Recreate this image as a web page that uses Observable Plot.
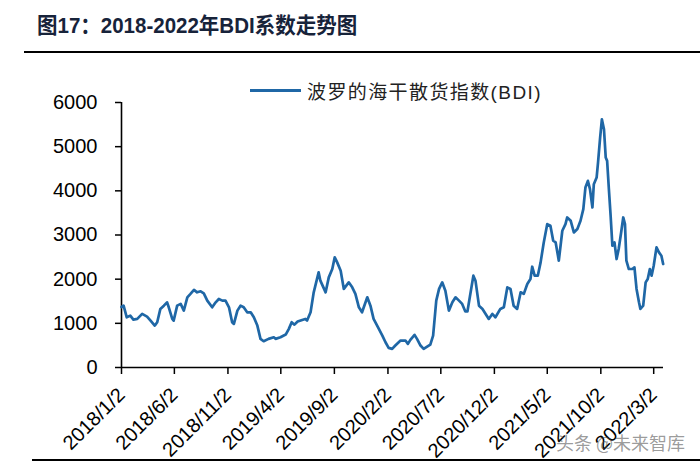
<!DOCTYPE html>
<html>
<head>
<meta charset="utf-8">
<script src="https://cdn.jsdelivr.net/npm/d3@7"></script>
<script src="https://cdn.jsdelivr.net/npm/@observablehq/plot@0.6"></script>
<style>
  html, body { margin: 0; padding: 0; background: #fff; }
  #wrap { position: relative; width: 700px; height: 462px; overflow: hidden; font-family: "Liberation Sans", Arial, "Noto Sans CJK SC", sans-serif; }
  #title { position: absolute; left: 37px; top: 15px; font-size: 20.5px; font-weight: bold; color: #17233a; line-height: 1; white-space: nowrap; font-family: "Liberation Sans", Arial, "Noto Sans CJK SC", sans-serif; transform: scaleY(1.08); transform-origin: left top; }
  #titleRule { position: absolute; left: 24px; top: 51px; width: 676px; height: 2px; background: #000; }
  #chart { position: absolute; left: 0; top: 60px; }
  #legend { position: absolute; left: 250px; top: 78px; height: 24px; display: flex; align-items: center; white-space: nowrap; }
  #legend .sw { width: 51px; height: 3px; background: #1f67a6; margin-right: 6px; }
  #legend .lb { font-size: 19px; color: #222; letter-spacing: 1.4px; font-family: "Liberation Sans", Arial, "Noto Sans CJK SC", sans-serif; }
  #bottomRule { position: absolute; left: 32px; top: 459px; width: 668px; height: 1.5px; background: #000; }
  #wm { position: absolute; left: 556px; top: 429px; font-size: 18px; color: rgba(70,70,70,0.55); white-space: nowrap; font-family: "Noto Sans CJK SC", sans-serif; }
</style>
</head>
<body>
<div id="wrap">
  <div id="title">图17：2018-2022年BDI系数走势图</div>
  <div id="titleRule"></div>
  <div id="chart"></div>
  <div id="legend"><div class="sw"></div><div class="lb">波罗的海干散货指数(BDI)</div></div>
  <div id="bottomRule"></div>
  <div id="wm">头条 @未来智库</div>
</div>
<script>
const dates = [
"2018-01-02","2018-01-08","2018-01-17","2018-01-27","2018-02-05","2018-02-16","2018-03-02","2018-03-16","2018-03-26","2018-04-07",
"2018-04-14","2018-04-23","2018-05-03","2018-05-12","2018-05-17","2018-05-27","2018-05-31","2018-06-10","2018-06-20","2018-06-29",
"2018-07-09","2018-07-18","2018-07-28","2018-08-06","2018-08-16","2018-08-25","2018-09-04","2018-09-18","2018-09-28","2018-10-07",
"2018-10-17","2018-10-26","2018-11-05","2018-11-14","2018-11-19","2018-11-29","2018-12-08","2018-12-17","2018-12-27","2019-01-06",
"2019-01-15","2019-01-25","2019-02-03","2019-02-12","2019-02-26","2019-03-13","2019-03-18","2019-04-01","2019-04-16","2019-04-25",
"2019-05-03","2019-05-11","2019-05-20","2019-06-02","2019-06-11","2019-06-16","2019-06-26","2019-07-05","2019-07-19","2019-07-24",
"2019-08-08","2019-08-17","2019-08-27","2019-09-03","2019-09-10","2019-09-20","2019-09-29","2019-10-13","2019-10-23","2019-11-01",
"2019-11-11","2019-11-20","2019-12-05","2019-12-14","2019-12-23","2020-01-07","2020-01-17","2020-01-26","2020-02-04","2020-02-14",
"2020-02-23","2020-03-09","2020-03-23","2020-03-30","2020-04-06","2020-04-18","2020-04-25","2020-05-05","2020-05-14","2020-05-24",
"2020-06-02","2020-06-10","2020-06-19","2020-06-27","2020-07-06","2020-07-15","2020-07-25","2020-08-04","2020-08-13","2020-08-23",
"2020-09-01","2020-09-10","2020-09-16","2020-09-23","2020-10-03","2020-10-09","2020-10-19","2020-10-29","2020-11-07","2020-11-16",
"2020-11-26","2020-12-05","2020-12-19","2020-12-29","2021-01-08","2021-01-17","2021-01-26","2021-02-05","2021-02-15","2021-02-24",
"2021-03-06","2021-03-15","2021-03-20","2021-03-27","2021-04-05","2021-04-13","2021-04-22","2021-05-02","2021-05-11","2021-05-19",
"2021-05-26","2021-06-04","2021-06-14","2021-06-23","2021-06-28","2021-07-08","2021-07-17","2021-07-27","2021-08-05","2021-08-13",
"2021-08-19","2021-08-26","2021-09-01","2021-09-08","2021-09-12","2021-09-20","2021-09-24","2021-09-30","2021-10-05","2021-10-11",
"2021-10-16","2021-10-20","2021-10-25","2021-10-30","2021-11-04","2021-11-10","2021-11-16","2021-11-22","2021-11-29","2021-12-05",
"2021-12-10","2021-12-14","2021-12-21","2021-12-31","2022-01-06","2022-01-12","2022-01-19","2022-01-23","2022-01-31","2022-02-07",
"2022-02-13","2022-02-19","2022-02-24","2022-03-02","2022-03-10","2022-03-17","2022-03-24","2022-03-29"
];
const bdi = [
1370,1400,1137,1175,1085,1100,1213,1152,1062,949,
1024,1326,1400,1476,1363,1100,1062,1400,1440,1288,
1589,1666,1756,1702,1725,1680,1514,1363,1476,1552,
1514,1514,1363,1024,987,1288,1400,1363,1250,1250,
1137,949,648,595,648,685,648,685,746,875,
1024,970,1040,1077,1100,1062,1250,1702,2154,1966,
1702,2041,2230,2493,2380,2192,1779,1928,1815,1666,
1363,1250,1589,1400,1100,875,723,572,444,422,
497,610,610,535,625,738,648,497,422,474,
520,723,1514,1779,1928,1740,1288,1476,1589,1514,
1440,1270,1270,1600,2079,1966,1400,1326,1213,1100,
1213,1137,1326,1363,1815,1779,1400,1326,1702,1666,
1892,2004,2282,2079,2079,2380,2832,3247,3209,2870,
2832,2418,3096,3247,3397,3322,3058,3134,3322,3586,
4075,4226,4038,3623,4151,4301,4640,5205,5620,5394,
4753,4678,4038,3435,2757,2832,2456,2682,3058,3397,
3247,2418,2230,2230,2267,1779,1476,1326,1400,1928,
2004,2230,2079,2305,2719,2606,2531,2343
];
const xTickDates = ["2018-01-02","2018-06-02","2018-11-02","2019-04-02","2019-09-02","2020-02-02","2020-07-02","2020-12-02","2021-05-02","2021-10-02","2022-03-02"];
const xTickLabels = ["2018/1/2","2018/6/2","2018/11/2","2019/4/2","2019/9/2","2020/2/2","2020/7/2","2020/12/2","2021/5/2","2021/10/2","2022/3/2"];
const yTicks = [0,1000,2000,3000,4000,5000,6000];
const xDomain = ["2018-01-02","2022-03-30"];

const data = dates.map((d, i) => ({date: new Date(d), value: bdi[i]}));
const tickDates = xTickDates.map(d => new Date(d));
const labelMap = new Map(tickDates.map((d, i) => [+d, xTickLabels[i]]));
const x0 = new Date(xDomain[0]);

const chart = Plot.plot({
  width: 700,
  height: 400,
  marginLeft: 121,
  marginRight: 37,
  marginTop: 42,
  marginBottom: 93,
  style: {fontFamily: "'Liberation Sans', Arial, sans-serif", fontSize: "20px", color: "#000", background: "transparent", overflow: "visible"},
  x: {type: "utc", domain: xDomain.map(d => new Date(d))},
  y: {domain: [0, 6000]},
  marks: [
    Plot.axisY({ticks: yTicks, tickSize: 6, tickPadding: 18, label: null, fontSize: 20, strokeWidth: 1.5, tickFormat: d => String(d)}),
    Plot.axisX({ticks: tickDates, tickSize: 7, tickPadding: 17, tickRotate: -45, label: null, fontSize: 20, strokeWidth: 1.5, tickFormat: d => labelMap.get(+d)}),
    Plot.ruleX([x0], {stroke: "#000", strokeWidth: 1.6}),
    Plot.ruleY([0], {stroke: "#000", strokeWidth: 1.6}),
    Plot.line(data, {x: "date", y: "value", stroke: "#1f67a6", strokeWidth: 2.7, strokeLinejoin: "round"})
  ]
});
document.getElementById("chart").appendChild(chart);
</script>
</body>
</html>
